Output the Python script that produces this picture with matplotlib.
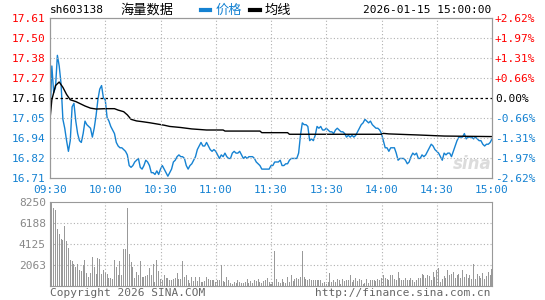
import matplotlib
matplotlib.use('Agg')
import matplotlib.pyplot as plt
from matplotlib.lines import Line2D

plt.rcParams['font.family'] = ['DejaVu Sans Mono', 'Noto Sans CJK SC']

code = 'sh603138'
name = '海量数据'
stamp = '2026-01-15 15:00:00'
prev_close = 17.16

# one value per minute, 09:30-11:30 then 13:00-15:00
price = [17.04, 17.34, 17.19, 17.22, 17.40, 17.34, 17.24, 17.04, 16.99, 16.92,
         16.86, 16.92, 17.11, 17.13, 17.03, 16.96, 16.92, 16.91, 16.96, 17.03,
         17.01, 17.00, 16.99, 16.94, 16.99, 17.06, 17.15, 17.21, 17.23, 17.16,
         17.15, 17.05, 17.03, 17.00, 16.98, 16.96, 16.91, 16.89, 16.88, 16.88,
         16.87, 16.86, 16.84, 16.78, 16.77, 16.78, 16.80, 16.81, 16.82, 16.77,
         16.76, 16.78, 16.81, 16.80, 16.78, 16.74, 16.74, 16.73, 16.75, 16.73,
         16.76, 16.78, 16.76, 16.74, 16.72, 16.74, 16.76, 16.80, 16.81, 16.83,
         16.84, 16.83, 16.83, 16.82, 16.78, 16.76, 16.78, 16.79, 16.81, 16.83,
         16.87, 16.89, 16.91, 16.89, 16.89, 16.91, 16.89, 16.87, 16.86, 16.87,
         16.86, 16.84, 16.82, 16.84, 16.83, 16.85, 16.83, 16.82, 16.82, 16.85,
         16.86, 16.85, 16.85, 16.86, 16.84, 16.82, 16.83, 16.82, 16.83, 16.83,
         16.83, 16.82, 16.80, 16.79, 16.78, 16.76, 16.76, 16.76, 16.76, 16.76,
         16.78,
         16.78, 16.80, 16.80, 16.80, 16.81, 16.78, 16.78, 16.79, 16.79,
         16.81, 16.82, 16.82, 16.82, 16.82, 16.85, 16.95, 17.02, 17.01, 17.01,
         17.00, 16.92, 16.93, 16.92, 16.95, 17.00, 16.99, 17.00, 16.98, 16.98,
         16.99, 16.98, 16.97, 16.97, 16.96, 16.98, 16.99, 16.98, 16.97, 16.97,
         16.96, 16.94, 16.95, 16.94, 16.95, 16.94, 16.95, 16.97, 16.99, 17.01,
         17.02, 17.04, 17.03, 17.02, 17.03, 17.01, 17.00, 16.99, 16.99, 16.98,
         16.96, 16.92, 16.88, 16.88, 16.86, 16.88, 16.88, 16.88, 16.85, 16.81,
         16.82, 16.82, 16.82, 16.81, 16.79, 16.80, 16.83, 16.85, 16.84, 16.85,
         16.82, 16.82, 16.84, 16.83, 16.84, 16.86, 16.88, 16.90, 16.89, 16.87,
         16.86, 16.85, 16.83, 16.81, 16.85, 16.84, 16.85, 16.85, 16.83, 16.86,
         16.89, 16.92, 16.94, 16.94, 16.94, 16.96, 16.93, 16.94, 16.94, 16.94,
         16.93, 16.94, 16.93, 16.92, 16.92, 16.90, 16.89, 16.90, 16.90, 16.91, 16.93]

avg_min = [0, 1, 2, 3, 5, 7, 9, 11, 14, 17, 19, 22, 25, 30, 35, 37, 40, 42, 44, 47,
           50, 54, 58, 62, 65, 71, 77, 85, 94, 95, 114, 115, 129, 130, 180, 181,
           184, 200, 214, 240]
avg_val = [17.04, 17.15, 17.19, 17.23, 17.25, 17.22, 17.18, 17.15, 17.14, 17.125,
           17.115, 17.103, 17.098, 17.10, 17.10, 17.092, 17.083, 17.065, 17.04, 17.031,
           17.027, 17.021, 17.014, 17.007, 17.0, 16.994, 16.986, 16.98, 16.98, 16.974,
           16.974, 16.965, 16.965, 16.956, 16.956, 16.961, 16.958, 16.952, 16.946, 16.943]

volume = [5460, 8240, 7690, 7490, 5625, 5130, 4640, 4480, 5850, 4380,
          3760, 2520, 2420, 2125, 1860, 2190, 1540, 1440, 2030, 2520,
          1310, 850, 1310, 2880, 1860, 1210, 2780, 2680, 1210, 1540,
          1310, 1210, 820, 820, 720, 2520, 1860, 1050, 2420, 1110,
          3660, 3600, 7690, 3170, 2350, 1860, 820, 1370, 1110, 2420,
          880, 880, 950, 1110, 1800, 1050, 2125, 390, 2520, 1440,
          720, 620, 1050, 820, 820, 560, 560, 720, 785, 1310,
          650, 720, 2420, 880, 1110, 560, 330, 880, 460,
          880, 460, 880, 390, 390, 460, 880, 720, 620, 560, 560,
          390, 560, 620, 2030, 460, 390, 880, 620, 290, 230,
          390, 330, 560, 390, 290, 330, 390, 720, 330, 460,
          290, 560, 460, 720, 390, 330, 460, 560, 820, 390,
          230, 390, 3400, 720, 390, 330, 720, 390, 330, 880,
          390, 1050, 460, 720, 820, 720, 880, 3400, 880, 720, 620, 720, 560,
          556, 556, 556, 556, 556, 294, 392, 229, 392, 1275,
          392, 556, 392, 719, 621, 229, 719, 490, 621, 556,
          1046, 392, 556, 817, 490, 719, 621, 229, 294, 719,
          294, 556, 621, 621, 490, 719, 556, 817, 1046, 817,
          719, 556, 1046, 1046, 719, 556, 1373, 817, 556, 556,
          817, 556, 621, 817, 556, 392, 556, 817, 817, 1144,
          1046, 817, 1046, 948, 556, 1373, 880, 1537, 1798, 392,
          719, 948, 817, 1602, 1046, 1210, 1373, 817, 1046, 1210,
          817, 1537, 880, 1210, 817, 1046, 719, 2125, 719, 1144,
          948, 817, 1275, 719, 948, 1373, 1046, 1635]

price_ticks = [16.71, 16.8225, 16.935, 17.0475, 17.16, 17.2725, 17.385, 17.4975, 17.61]
price_labels = ['16.71', '16.82', '16.94', '17.05', '17.16', '17.27', '17.38', '17.50', '17.61']
pct_labels = ['-2.62%', '-1.97%', '-1.31%', '-0.66%', '0.00%', '+0.66%', '+1.31%', '+1.97%', '+2.62%']
time_ticks = [0, 30, 60, 90, 120, 150, 180, 210, 240]
time_labels = ['09:30', '10:00', '10:30', '11:00', '11:30', '13:30', '14:00', '14:30', '15:00']
vol_ticks = [2063, 4125, 6188, 8250]

RED = '#ff0000'
BLUE = '#1582d2'
GRAY = '#999999'
fs = 8

fig = plt.figure(figsize=(5.45, 3.0), dpi=100)
W, H = 545.0, 300.0

# price panel
ax = fig.add_axes([50 / W, 1 - 178 / H, 442 / W, 160 / H])
ax.plot(range(len(price)), price, color=BLUE, lw=1.0)
ax.plot(avg_min, avg_val, color='black', lw=1.0)
ax.axhline(prev_close, color='black', lw=0.9, ls=(0, (2, 2)))
ax.set_xlim(0, 240)
ax.set_ylim(16.71, 17.61)
ax.set_yticks(price_ticks)
ax.set_yticklabels(price_labels, fontsize=fs)
ax.set_xticks(time_ticks)
ax.set_xticklabels(time_labels, fontsize=fs, color=BLUE)
ax.tick_params(axis='y', length=0, pad=3)
ax.tick_params(axis='x', length=0, pad=5)
for t, v in zip(ax.get_yticklabels(), price_ticks):
    if v > prev_close + 0.001:
        t.set_color(RED)
    elif v < prev_close - 0.001:
        t.set_color(BLUE)
    else:
        t.set_color('black')
for t in time_ticks[1:-1]:
    ax.axvline(t, color='#b0b0b0', lw=0.8, ls=(0, (1, 2)))
for v in price_ticks[1:-1]:
    if v != prev_close:
        ax.axhline(v, color='#b0b0b0', lw=0.8, ls=(0, (1, 2)))
for s in ax.spines.values():
    s.set_color(GRAY)

ax2 = ax.twinx()
ax2.set_ylim(16.71, 17.61)
ax2.set_yticks(price_ticks)
ax2.set_yticklabels(pct_labels, fontsize=fs)
ax2.tick_params(length=0, pad=2)
for t, v in zip(ax2.get_yticklabels(), price_ticks):
    if v > prev_close + 0.001:
        t.set_color(RED)
    elif v < prev_close - 0.001:
        t.set_color(BLUE)
    else:
        t.set_color('black')
for s in ax2.spines.values():
    s.set_color(GRAY)

ax.text(0.955, 0.09, 'sina', transform=ax.transAxes, ha='center', va='center',
        fontsize=12, fontweight='bold', style='italic', color='#dcdcdc',
        family='DejaVu Sans', zorder=0)

# volume panel
axv = fig.add_axes([50 / W, 1 - 286 / H, 442 / W, 84 / H])
axv.bar(range(len(volume)), volume, width=0.55, color=GRAY)
axv.set_xlim(0, 240)
axv.set_ylim(0, 8250)
axv.set_yticks(vol_ticks)
axv.set_yticklabels([str(v) for v in vol_ticks], fontsize=fs, color='#888888')
axv.set_xticks([])
axv.tick_params(length=0, pad=3)
for t in time_ticks[1:-1]:
    axv.axvline(t, color='#b0b0b0', lw=0.8, ls=(0, (1, 2)), zorder=0)
for v in vol_ticks[:-1]:
    axv.axhline(v, color='#b0b0b0', lw=0.8, ls=(0, (1, 2)), zorder=0)
for s in axv.spines.values():
    s.set_color(GRAY)

# header
fig.text(50 / W, 1 - 10 / H, code, fontsize=fs, va='center', ha='left')
fig.text(120 / W, 1 - 10 / H, name, fontsize=9.5, va='center', ha='left',
         family=['Noto Sans CJK SC', 'DejaVu Sans'])
fig.add_artist(Line2D([201 / W, 210 / W], [1 - 10 / H, 1 - 10 / H], color=BLUE, lw=3))
fig.text(216 / W, 1 - 10 / H, '价格', fontsize=9.5, va='center', ha='left', color=BLUE,
         family=['Noto Sans CJK SC', 'DejaVu Sans'])
fig.add_artist(Line2D([250 / W, 260 / W], [1 - 10 / H, 1 - 10 / H], color='black', lw=3))
fig.text(265 / W, 1 - 10 / H, '均线', fontsize=9.5, va='center', ha='left',
         family=['Noto Sans CJK SC', 'DejaVu Sans'])
fig.text(491 / W, 1 - 10 / H, stamp, fontsize=fs, va='center', ha='right')

# footer
fig.text(50 / W, 1 - 293 / H, 'Copyright 2026 SINA.COM', fontsize=fs, va='center',
         ha='left', color='#666666')
fig.text(491 / W, 1 - 293 / H, 'http://finance.sina.com.cn', fontsize=fs, va='center',
         ha='right', color='#666666')

fig.savefig('out.png', dpi=100, facecolor='white')
